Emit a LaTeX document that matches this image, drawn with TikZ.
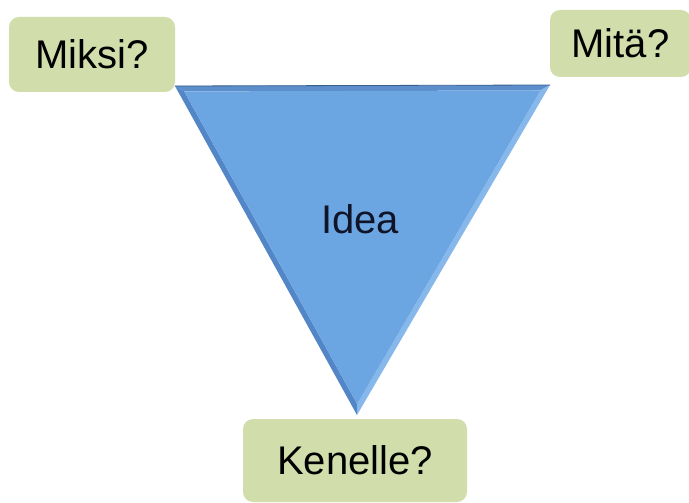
\documentclass[tikz,border=0pt]{standalone}
\usepackage{fontspec}
\setmainfont{Liberation Sans}
\usetikzlibrary{calc}

\definecolor{boxGreen}{RGB}{209,221,171}
\definecolor{ideaBlue}{RGB}{108,166,226}
\definecolor{bevelDark}{RGB}{82,134,198}
\definecolor{bevelLight}{RGB}{134,184,236}
\definecolor{bevelTop}{RGB}{92,142,204}
\definecolor{ideaText}{RGB}{16,20,40}

\begin{document}
\begin{tikzpicture}[x=1pt, y=-1pt, >=latex]
        \tikzstyle{question} = [fill=boxGreen, rounded corners=10pt, 
            inner sep=0pt, font=\fontsize{40}{48}\selectfont]
        \tikzstyle{ideaLabel} = [font=\fontsize{40}{48}\selectfont, text=ideaText]
        \tikzstyle{bevel} = [draw=none]

        \clip (0,0) rectangle (689,503);
        \fill[white] (0,0) rectangle (689,503);

        % corners of the triangle
        \coordinate (cornerL) at (175,86);
        \coordinate (cornerR) at (550,85);
        \coordinate (cornerB) at (357,415);
        \coordinate (center) at (359.6,194.5);
        \coordinate (innerL) at ($(center)!0.95!(cornerL)$);
        \coordinate (innerR) at ($(center)!0.95!(cornerR)$);
        \coordinate (innerB) at ($(center)!0.95!(cornerB)$);

        \fill[bevel, bevelTop] (cornerL) -- (cornerR) -- (innerR) -- (innerL) -- cycle;
        \fill[bevel, bevelDark] (cornerL) -- (innerL) -- (innerB) -- (cornerB) -- cycle;
        \fill[bevel, bevelLight] (cornerR) -- (cornerB) -- (innerB) -- (innerR) -- cycle;
        \fill[ideaBlue] (innerL) -- (innerR) -- (innerB) -- cycle;
        \draw[bevelDark!70!black, line width=0.8pt] (cornerL) -- (cornerR);

        \node[ideaLabel] (nodeIdea) at (360,219) {Idea};

        \node[question, minimum width=166pt, minimum height=75pt] 
            (nodeMiksi) at (92,54.5) {Miksi?};
        \node[question, minimum width=141pt, minimum height=67pt] 
            (nodeMita) at (620.5,43.5) {Mitä?};
        \node[question, minimum width=224pt, minimum height=83pt] 
            (nodeKenelle) at (355,460.5) {Kenelle?};
    \end{tikzpicture}
\end{document}
